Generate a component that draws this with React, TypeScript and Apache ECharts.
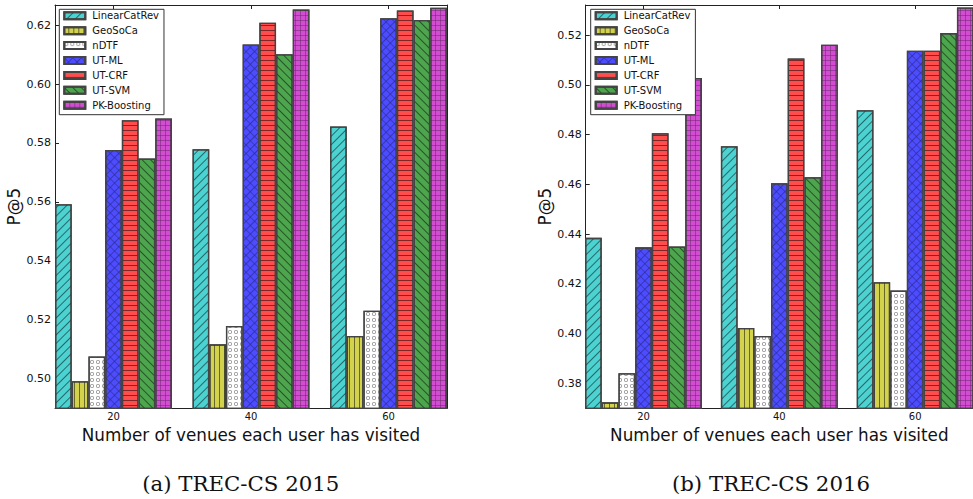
import React, { useEffect, useRef } from "react";
import * as echarts from "echarts";

// ---- data ----
const xPositions = [20, 40, 60];
const xTickLabels = ["20", "40", "60"];
const methods = ["LinearCatRev", "GeoSoCa", "nDTF", "UT-ML", "UT-CRF", "UT-SVM", "PK-Boosting"];

const linearCatRev2015 = [0.5592, 0.5779, 0.5856];
const geoSoCa2015 = [0.4992, 0.5117, 0.5145];
const nDTF2015 = [0.5076, 0.5179, 0.5231];
const utML2015 = [0.5776, 0.6134, 0.6223];
const utCRF2015 = [0.5877, 0.6208, 0.6249];
const utSVM2015 = [0.5747, 0.6101, 0.6217];
const pkBoosting2015 = [0.5883, 0.6253, 0.6259];

const linearCatRev2016 = [0.4385, 0.4753, 0.4898];
const geoSoCa2016 = [0.3724, 0.4023, 0.4207];
const nDTF2016 = [0.3841, 0.3991, 0.4173];
const utML2016 = [0.4347, 0.4605, 0.5137];
const utCRF2016 = [0.4806, 0.5106, 0.5137];
const utSVM2016 = [0.435, 0.4629, 0.5208];
const pkBoosting2016 = [0.5028, 0.5161, 0.5311];

const yTicks2015 = [0.5, 0.52, 0.54, 0.56, 0.58, 0.6, 0.62];
const yTicks2016 = [0.38, 0.4, 0.42, 0.44, 0.46, 0.48, 0.5, 0.52];

const xAxisTitle = "Number of venues each user has visited";
const yAxisTitle = "P@5";
const captions = ["(a) TREC-CS 2015", "(b) TREC-CS 2016"];

// ---- styles ----
const FONT = "DejaVu Sans";
const hatch = "rgba(0,0,0,0.5)";
const gridPath = "path://M0,0H10V1H0Z M0,0H1V10H0Z";
const ringPath =
  "path://M5,0A5,5,0,1,1,5,10A5,5,0,1,1,5,0Z M5,2A3,3,0,1,0,5,8A3,3,0,1,0,5,2Z";

const methodStyles = [
  { color: "#4dd2d2", decal: { symbol: "rect", symbolSize: 1, dashArrayX: [1, 0], dashArrayY: [1, 5], rotation: -Math.PI / 4, color: hatch } },
  { color: "#d2d24d", decal: { symbol: "rect", symbolSize: 1, dashArrayX: [1, 0], dashArrayY: [1, 4], rotation: Math.PI / 2, color: hatch } },
  { color: "#ffffff", decal: { symbol: ringPath, symbolSize: 1, dashArrayX: [4, 2], dashArrayY: [4, 2], color: "rgba(0,0,0,0.45)" } },
  { color: "#4d4dff", decal: { symbol: gridPath, symbolSize: 1, dashArrayX: [6, 0], dashArrayY: [6, 0], rotation: Math.PI / 4, color: hatch } },
  { color: "#ff4d4d", decal: { symbol: "rect", symbolSize: 1, dashArrayX: [1, 0], dashArrayY: [1, 4], color: hatch } },
  { color: "#4da64d", decal: { symbol: "rect", symbolSize: 1, dashArrayX: [1, 0], dashArrayY: [1, 5], rotation: Math.PI / 4, color: hatch } },
  { color: "#d24dd2", decal: { symbol: gridPath, symbolSize: 1, dashArrayX: [5, 0], dashArrayY: [5, 0], color: hatch } },
];

const data2015 = [linearCatRev2015, geoSoCa2015, nDTF2015, utML2015, utCRF2015, utSVM2015, pkBoosting2015];
const data2016 = [linearCatRev2016, geoSoCa2016, nDTF2016, utML2016, utCRF2016, utSVM2016, pkBoosting2016];

const X_MIN = 20 - 8.509;
const X_MAX = 60 + 8.509;

function buildOption() {
  const grids = [
    { left: 55, top: 5, width: 392, height: 403.3 },
    { left: 585.7, top: 5, width: 392, height: 403.3 },
  ];
  const yRanges = [
    { min: 0.49, max: 0.6268, ticks: yTicks2015 },
    { min: 0.37, max: 0.5321, ticks: yTicks2016 },
  ];
  const frame = "#222";
  const xAxis: any[] = [];
  const yAxis: any[] = [];
  grids.forEach((g, gi) => {
    xAxis.push({
      type: "value",
      gridIndex: gi,
      position: "bottom",
      min: X_MIN,
      max: X_MAX,
      name: xAxisTitle,
      nameLocation: "middle",
      nameGap: 15,
      nameTextStyle: { fontFamily: FONT, fontSize: 16.8, color: "#111" },
      axisLine: { show: true, lineStyle: { color: frame, width: 1 } },
      axisTick: { show: true, inside: true, length: 4, customValues: xPositions, lineStyle: { color: frame } },
      axisLabel: {
        show: true,
        customValues: xPositions,
        margin: 3,
        fontFamily: FONT,
        fontSize: 10,
        color: "#111",
        formatter: (v: number) => xTickLabels[xPositions.indexOf(v)] ?? "",
      },
      splitLine: { show: false },
    });
    xAxis.push({
      type: "value",
      gridIndex: gi,
      position: "top",
      min: X_MIN,
      max: X_MAX,
      axisLine: { show: true, lineStyle: { color: frame, width: 1 } },
      axisTick: { show: true, inside: true, length: 4, customValues: xPositions, lineStyle: { color: frame } },
      axisLabel: { show: false },
      splitLine: { show: false },
    });
    const yr = yRanges[gi];
    yAxis.push({
      type: "value",
      gridIndex: gi,
      position: "left",
      min: yr.min,
      max: yr.max,
      name: yAxisTitle,
      nameLocation: "middle",
      nameGap: 32,
      nameRotate: 90,
      nameTextStyle: { fontFamily: FONT, fontSize: 16.8, color: "#111" },
      axisLine: { show: true, lineStyle: { color: frame, width: 1 } },
      axisTick: { show: true, inside: true, length: 4, customValues: yr.ticks, lineStyle: { color: frame } },
      axisLabel: {
        show: true,
        customValues: yr.ticks,
        margin: 4,
        fontFamily: FONT,
        fontSize: 11,
        color: "#111",
        formatter: (v: number) => v.toFixed(2),
      },
      splitLine: { show: false },
    });
    yAxis.push({
      type: "value",
      gridIndex: gi,
      position: "right",
      min: yr.min,
      max: yr.max,
      axisLine: { show: true, lineStyle: { color: frame, width: 1 } },
      axisTick: { show: true, inside: true, length: 4, customValues: yr.ticks, lineStyle: { color: frame } },
      axisLabel: { show: false },
      splitLine: { show: false },
    });
  });

  const series: any[] = [];
  [data2015, data2016].forEach((dataset, gi) => {
    dataset.forEach((vals, mi) => {
      series.push({
        type: "bar",
        name: methods[mi],
        xAxisIndex: gi * 2,
        yAxisIndex: gi * 2,
        barWidth: 16.7,
        barGap: "0%",
        data: xPositions.map((x, i) => [x, vals[i]]),
        itemStyle: {
          color: methodStyles[mi].color,
          borderColor: "#444",
          borderWidth: 1.3,
          decal: methodStyles[mi].decal,
        },
      });
    });
  });

  const legendBase = {
    orient: "vertical",
    top: 9.3,
    icon: "rect",
    itemWidth: 21,
    itemHeight: 7,
    itemGap: 3.9,
    padding: [1, 5, 4, 4],
    backgroundColor: "#fff",
    borderColor: "#333",
    borderWidth: 1,
    selectedMode: false,
    textStyle: { fontFamily: FONT, fontSize: 10, color: "#111", lineHeight: 11, padding: [0, 0, 0, 2] },
    data: methods,
  };

  const captionFont = '21.3px "DejaVu Serif"';

  return {
    animation: false,
    backgroundColor: "#fff",
    grid: grids.map((g) => ({ ...g, containLabel: false })),
    xAxis,
    yAxis,
    series,
    legend: [
      { ...legendBase, left: 59.3 },
      { ...legendBase, left: 590.7 },
    ],
    graphic: [
      {
        type: "text",
        x: 240.8,
        y: 483,
        style: {
          text: captions[0],
          textAlign: "center",
          textVerticalAlign: "middle",
          font: captionFont,
          fill: "#111",
        },
      },
      {
        type: "text",
        x: 771,
        y: 483,
        style: {
          text: captions[1],
          textAlign: "center",
          textVerticalAlign: "middle",
          font: captionFont,
          fill: "#111",
        },
      },
    ],
  };
}

export default function App() {
  const ref = useRef<HTMLDivElement>(null);
  useEffect(() => {
    if (!ref.current) return;
    const chart = echarts.init(ref.current, undefined, { renderer: "svg" });
    chart.setOption(buildOption() as any);
    return () => chart.dispose();
  }, []);
  return (
    <div
      ref={ref}
      style={{ position: "absolute", left: 0, top: 0, width: 973, height: 499, background: "#fff" }}
    />
  );
}
